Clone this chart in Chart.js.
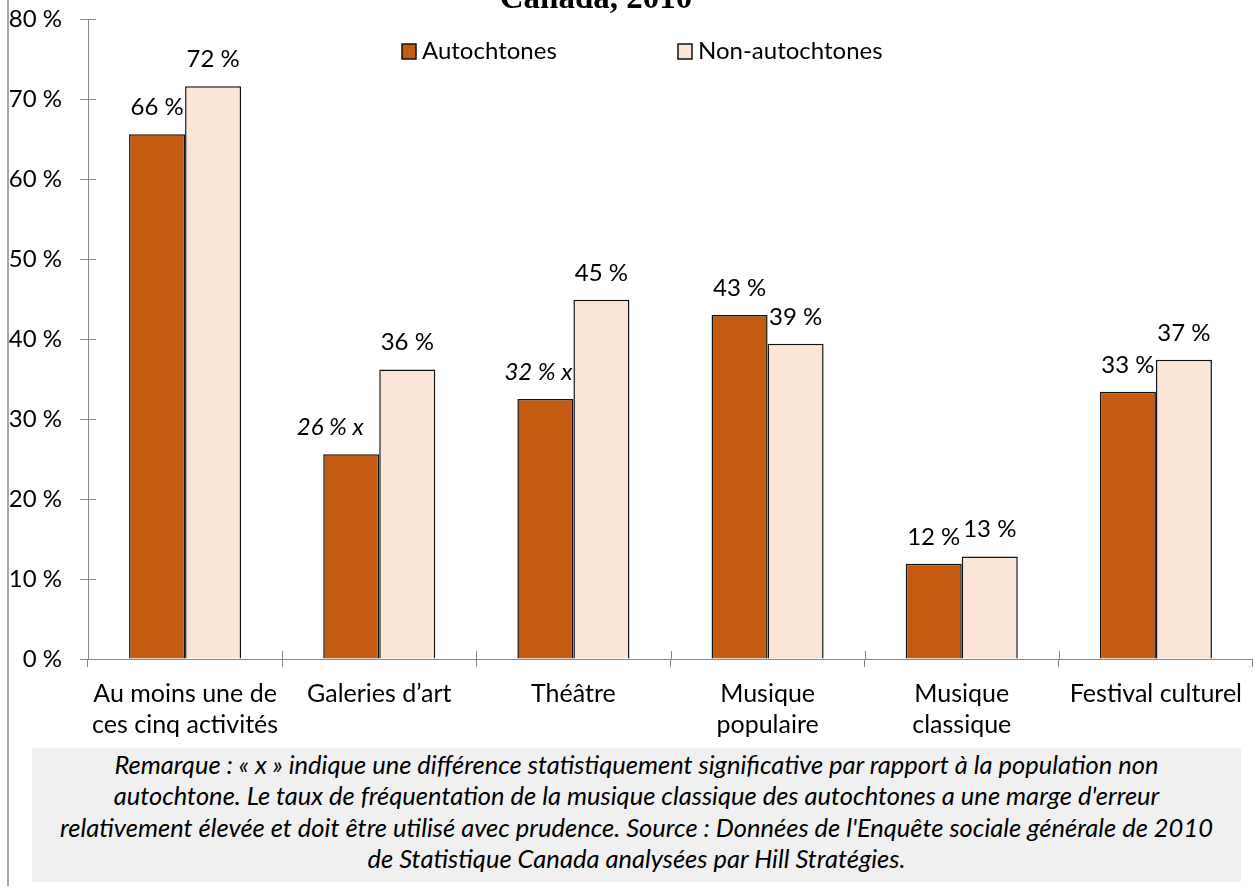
<!DOCTYPE html>
<html>
<head>
<meta charset="utf-8">
<script src="https://cdn.jsdelivr.net/npm/chart.js@4.4.0/dist/chart.umd.min.js"></script>
<style>
  html, body { margin: 0; padding: 0; background: #fff; }
  #wrap { position: relative; width: 1253px; height: 886px; overflow: hidden; }
  #chart { position: absolute; left: 0; top: 0; }
  #edge { position: absolute; left: 7px; top: 0; width: 2px; height: 886px; background: #a6a6a6; }
  #note {
    position: absolute; left: 32px; top: 748px; width: 1209px; height: 134px;
    background: #f0f0f0; color: #000; font: italic 25.5px Lato; text-align: center;
    line-height: 31.3px; padding-top: 1px; box-sizing: border-box; white-space: nowrap;
  }
</style>
</head>
<body>
<div id="wrap">
  <canvas id="chart" width="1253" height="886"></canvas>
  <div id="edge"></div>
  <div id="note">
    Remarque : « x » indique une différence statistiquement significative par rapport à la population non<br>
    autochtone. Le taux de fréquentation de la musique classique des autochtones a une marge d'erreur<br>
    relativement élevée et doit être utilisé avec prudence. Source : Données de l'Enquête sociale générale de 2010<br>
    de Statistique Canada analysées par Hill Stratégies.
  </div>
</div>
<script>
const categories = [
  ["Au moins une de", "ces cinq activités"],
  "Galeries d’art",
  "Théâtre",
  ["Musique", "populaire"],
  ["Musique", "classique"],
  "Festival culturel",
];
const autochtones = [65.6, 25.6, 32.5, 43.0, 11.9, 33.4];
const nonAutochtones = [71.6, 36.2, 44.9, 39.4, 12.8, 37.4];
const autochtonesLabels = ["66 %", "26 % x", "32 % x", "43 %", "12 %", "33 %"];
const nonAutochtonesLabels = ["72 %", "36 %", "45 %", "39 %", "13 %", "37 %"];
const yTicks = [0, 10, 20, 30, 40, 50, 60, 70, 80];

const FONT = "Lato";
const AXIS = "#868686";

// the "x" labels sit a little left of their bars in the original
const labelNudge = [0, -21, -7, 0, 0, 0];

const barLabels = {
  id: "barLabels",
  afterDatasetsDraw(chart) {
    const ctx = chart.ctx;
    const sets = [autochtonesLabels, nonAutochtonesLabels];
    ctx.save();
    ctx.fillStyle = "#000";
    ctx.textAlign = "center";
    ctx.textBaseline = "middle";
    chart.data.datasets.forEach((ds, di) => {
      chart.getDatasetMeta(di).data.forEach((bar, i) => {
        const txt = sets[di][i];
        const italic = txt.endsWith("x");
        ctx.font = (italic ? "italic " : "") + "24px " + FONT;
        ctx.fillText(txt, bar.x + (di === 0 ? labelNudge[i] : 0), bar.y - 27);
      });
    });
    ctx.restore();
  },
};

// inner half of the crossing tick marks, legend and the cut-off title
const extras = {
  id: "extras",
  afterDraw(chart) {
    const ctx = chart.ctx;
    const x = chart.scales.x, y = chart.scales.y;
    ctx.save();
    ctx.strokeStyle = AXIS;
    ctx.lineWidth = 1;
    yTicks.forEach((v) => {
      const py = Math.round(y.getPixelForValue(v)) + 0.5;
      ctx.beginPath();
      ctx.moveTo(x.left, py);
      ctx.lineTo(x.left + 8, py);
      ctx.stroke();
    });
    const n = categories.length;
    for (let i = 0; i <= n; i++) {
      const px = Math.round(x.left + (i * x.width) / n) + 0.5;
      ctx.beginPath();
      ctx.moveTo(px, y.bottom);
      ctx.lineTo(px, y.bottom - 8);
      ctx.stroke();
    }

    // legend
    const legendX = [402, 678];
    ctx.font = "24px " + FONT;
    ctx.textBaseline = "middle";
    ctx.textAlign = "left";
    chart.data.datasets.forEach((ds, i) => {
      ctx.fillStyle = ds.backgroundColor;
      ctx.fillRect(legendX[i], 44, 14, 15);
      ctx.strokeStyle = "#111";
      ctx.lineWidth = 1.5;
      ctx.strokeRect(legendX[i], 44, 14, 15);
      ctx.fillStyle = "#000";
      ctx.fillText(ds.label, legendX[i] + 20, 51);
    });

    // title (only the bottom of its last line shows)
    ctx.font = "bold 33px 'Liberation Serif'";
    ctx.textAlign = "center";
    ctx.textBaseline = "alphabetic";
    ctx.fillText("Canada, 2010", 596, 8);
    ctx.restore();
  },
};

new Chart(document.getElementById("chart"), {
  type: "bar",
  data: {
    labels: categories,
    datasets: [
      {
        label: "Autochtones",
        data: autochtones,
        backgroundColor: "#c55a11",
        borderColor: "#111",
        borderWidth: 1.5,
      },
      {
        label: "Non-autochtones",
        data: nonAutochtones,
        backgroundColor: "#fbe5d6",
        borderColor: "#111",
        borderWidth: 1.5,
      },
    ],
  },
  options: {
    responsive: false,
    animation: false,
    layout: { padding: { top: 19, right: 0, left: 0, bottom: 0 } },
    datasets: { bar: { categoryPercentage: 0.577, barPercentage: 1 } },
    plugins: {
      legend: { display: false },
      tooltip: { enabled: false },
      title: { display: false },
    },
    scales: {
      x: {
        afterFit(scale) {
          scale.height = 227;
          scale.paddingLeft = 0;
          scale.paddingRight = 0;
        },
        grid: { drawOnChartArea: false, tickLength: 8, color: AXIS, offset: true },
        border: { color: AXIS },
        ticks: {
          color: "#000",
          font: { family: FONT, size: 25, lineHeight: 1.25 },
          padding: 11,
          maxRotation: 0,
          autoSkip: false,
        },
      },
      y: {
        min: 0,
        max: 80,
        afterFit(scale) {
          scale.width = 88;
          scale.paddingTop = 0;
          scale.paddingBottom = 0;
        },
        afterBuildTicks(scale) { scale.ticks = yTicks.map((v) => ({ value: v })); },
        grid: { drawOnChartArea: false, tickLength: 8, color: AXIS },
        border: { color: AXIS },
        ticks: {
          color: "#000",
          font: { family: FONT, size: 24 },
          padding: 18,
          callback: (v) => v + " %",
        },
      },
    },
  },
  plugins: [barLabels, extras],
});
</script>
</body>
</html>
